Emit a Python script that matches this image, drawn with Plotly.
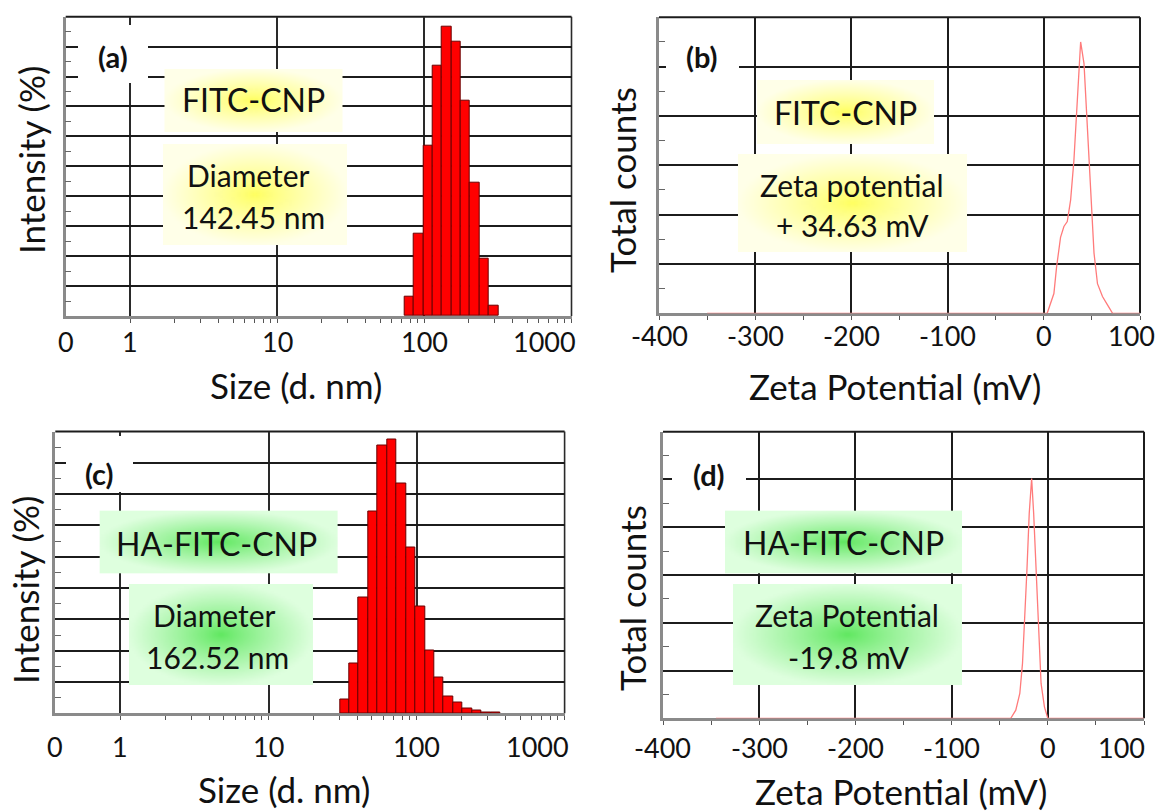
import numpy as np
import plotly.graph_objects as go
import zlib, struct, base64

W, H = 1160, 812

# ---------------- data ----------------
# DLS size classes (nm) and intensity (%)
size_a = [78.82, 91.28, 105.7, 122.4, 141.8, 164.2, 190.1, 220.2, 255.0, 295.3]
intensity_a = [1.3, 5.5, 11.4, 16.7, 19.3, 18.3, 14.4, 8.9, 3.8, 0.7]

size_c = [32.67, 37.84, 43.82, 50.75, 58.77, 68.06, 78.82, 91.28, 105.7,
          122.4, 141.8, 164.2, 190.1, 220.2, 255.0, 295.3, 342.0]
intensity_c = [0.85, 3.2, 7.4, 12.9, 17.1, 17.5, 14.7, 10.6, 6.8,
               4.0, 2.3, 1.1, 0.7, 0.3, 0.2, 0.06, 0.04]

# Zeta potential distributions (mV, total counts)
zeta_b = [-350, 3.5, 10.5, 13.3, 17.4, 20.9, 24.4, 27.9, 31.3, 34.9, 38.3,
          41.8, 45.3, 48.8, 52.2, 55.8, 61.0, 66.2, 71.5, 100]
counts_b = [0, 0, 20000, 47000, 77000, 88000, 93000, 115000, 155000, 213000,
            275000, 253000, 186000, 121000, 61000, 30000, 17000, 8500, 0, 0]

zeta_d = [-345, -38.5, -33.3, -29.1, -26.3, -23.8, -21.7, -19.3, -16.8,
          -14.7, -12.2, -9.8, -7.0, -3.5, 0, 100]
counts_d = [0, 0, 8500, 26000, 57500, 103000, 155000, 214500, 251000,
            214500, 155000, 85500, 36500, 12000, 0, 0]

size_ticks = [1, 10, 100, 1000]
size_ticktext = ["1", "10", "100", "1000"]
size_minor = [2, 3, 4, 5, 6, 7, 8, 9, 20, 30, 40, 50, 60, 70, 80, 90,
              200, 300, 400, 500, 600, 700, 800, 900]
zeta_ticks = [-400, -300, -200, -100, 0, 100]
zeta_ticktext = ["-400", "-300", "-200", "-100", "0", "100"]

FONT = "Lato"
TXT = "#111111"
TICK_FS = 27
TITLE_FS = 35
BOX_FS = 32
LETTER_FS = 29


def px_x(p):
    return p / W


def px_y(p):
    return 1 - p / H


def gradient_uri(center, edge, w=96, h=64):
    yy, xx = np.mgrid[0:h, 0:w]
    dx = ((xx + 0.5) / w - 0.5) / 0.5
    dy = ((yy + 0.5) / h - 0.5) / 0.5
    t = np.clip(np.sqrt(dx ** 2 + dy ** 2), 0, 1) ** 0.85
    c = np.array(center, float)
    e = np.array(edge, float)
    img = (c[None, None, :] * (1 - t[..., None]) + e[None, None, :] * t[..., None]).astype(np.uint8)
    raw = b"".join(b"\x00" + img[r].tobytes() for r in range(h))

    def chunk(tag, data):
        return (struct.pack(">I", len(data)) + tag + data +
                struct.pack(">I", zlib.crc32(tag + data) & 0xffffffff))

    png = (b"\x89PNG\r\n\x1a\n" +
           chunk(b"IHDR", struct.pack(">IIBBBBB", w, h, 8, 2, 0, 0, 0)) +
           chunk(b"IDAT", zlib.compress(raw)) + chunk(b"IEND", b""))
    return "data:image/png;base64," + base64.b64encode(png).decode()


YELLOW = gradient_uri((255, 255, 95), (255, 255, 232))
GREEN = gradient_uri((95, 232, 95), (222, 255, 222))

fig = go.Figure()

# panel pixel frames: x0, x1, y_top, y_bottom
frames = {
    "a": (65.7, 571.5, 16.7, 316.0),
    "b": (659.0, 1140.0, 17.3, 313.3),
    "c": (55.3, 564.6, 431.5, 713.3),
    "d": (663.0, 1144.0, 431.7, 718.3),
}
axis_ids = {"a": ("x", "y"), "b": ("x2", "y2"), "c": ("x3", "y3"), "d": ("x4", "y4")}

# bars
bin_w_a = float(np.log10(size_a[1] / size_a[0]))
fig.add_trace(go.Bar(x=np.log10(size_a), y=intensity_a, width=bin_w_a,
                     marker=dict(color="#ff0000", line=dict(color="#6a0000", width=1)),
                     xaxis="x", yaxis="y"))
bin_w_c = float(np.log10(size_c[1] / size_c[0]))
fig.add_trace(go.Bar(x=np.log10(size_c), y=intensity_c, width=bin_w_c,
                     marker=dict(color="#ff0000", line=dict(color="#6a0000", width=1)),
                     xaxis="x3", yaxis="y3"))
# zeta curves
fig.add_trace(go.Scatter(x=zeta_b, y=counts_b, mode="lines",
                         line=dict(color="#ff7b7b", width=1.3), xaxis="x2", yaxis="y2"))
fig.add_trace(go.Scatter(x=zeta_d, y=counts_d, mode="lines",
                         line=dict(color="#ff7b7b", width=1.3), xaxis="x4", yaxis="y4"))

AXLINE = "#8a8a8a"
GRID = "#1c1c1c"

layout = dict(width=W, height=H, margin=dict(l=0, r=0, t=0, b=0),
              paper_bgcolor="white", plot_bgcolor="white", showlegend=False,
              bargap=0, font=dict(family=FONT, color=TXT), hovermode=False)

shapes = []
images = []
annotations = []

for key, (x0, x1, yt, yb) in frames.items():
    xa, ya = axis_ids[key]
    xname = "xaxis" + xa[1:]
    yname = "yaxis" + ya[1:]
    xdom = [px_x(x0), px_x(x1)]
    ydom = [px_y(yb), px_y(yt)]
    if key in ("a", "c"):
        xax = dict(range=[-0.44, 3.0], tickmode="array",
                   tickvals=list(np.log10(size_ticks)),
                   showgrid=True, gridcolor="#2a2a2a", gridwidth=1.6,
                   minor=dict(tickmode="array", tickvals=list(np.log10(size_minor)),
                              ticks="outside", ticklen=4, tickcolor="#555", tickwidth=1,
                              showgrid=False))
        ymax = 20 if key == "a" else 18
        yax = dict(range=[0, ymax], dtick=2, tick0=0)
        minor_y = 1
        vcol, vw = "#2a2a2a", 1.6
    else:
        xax = dict(range=[-400, 100], tickmode="array", tickvals=zeta_ticks,
                   showgrid=True, gridcolor=GRID, gridwidth=2,
                   minor=dict(dtick=50, tick0=0, ticks="outside", ticklen=4,
                              tickcolor="#555", tickwidth=1, showgrid=False))
        yax = dict(range=[0, 300000], dtick=50000, tick0=0)
        minor_y = 25000
        vcol, vw = GRID, 2
    xax.update(domain=xdom, anchor=ya, showticklabels=False, ticks="outside",
               ticklen=4, tickcolor="#555", showline=True, linecolor=AXLINE,
               linewidth=2.5, zeroline=False, layer="below traces", fixedrange=True)
    yax.update(domain=ydom, anchor=xa, showticklabels=False, ticks="",
               showgrid=True, gridcolor=GRID, gridwidth=2, showline=True,
               linecolor=AXLINE, linewidth=2.5, zeroline=False, layer="below traces",
               fixedrange=True,
               minor=dict(dtick=minor_y, tick0=0, ticks="inside", ticklen=6,
                          tickcolor="#666", tickwidth=1.2, showgrid=False))
    layout[xname] = xax
    layout[yname] = yax
    # top and right frame lines (coincide with last grid lines)
    shapes.append(dict(type="line", xref=xa + " domain", yref=ya + " domain",
                       x0=0, x1=1, y0=1, y1=1, line=dict(color=GRID, width=2), layer="below"))
    shapes.append(dict(type="line", xref=xa + " domain", yref=ya + " domain",
                       x0=1, x1=1, y0=0, y1=1, line=dict(color=vcol, width=vw), layer="below"))

fig.update_layout(**layout)


def box_img(src, x0, x1, y0, y1):
    images.append(dict(source=src, xref="paper", yref="paper", x=px_x(x0), y=px_y(y0),
                       sizex=(x1 - x0) / W, sizey=(y1 - y0) / H, xanchor="left",
                       yanchor="top", sizing="stretch", layer="above"))


def white_box(x0, x1, y0, y1):
    shapes.append(dict(type="rect", xref="paper", yref="paper", x0=px_x(x0), x1=px_x(x1),
                       y0=px_y(y1), y1=px_y(y0), fillcolor="white", line=dict(width=0),
                       layer="above"))


def text(t, x, y, size, bold=False, angle=0):
    annotations.append(dict(text=("<b>%s</b>" % t) if bold else t, xref="paper",
                            yref="paper", x=px_x(x), y=px_y(y), showarrow=False,
                            xanchor="center", yanchor="middle", textangle=angle,
                            font=dict(family=FONT, size=size, color=TXT)))


# panel letters
white_box(78, 148, 25, 83)
text("(a)", 113, 56, LETTER_FS, bold=True)
white_box(666, 739, 25, 82)
text("(b)", 702, 56, LETTER_FS, bold=True)
white_box(66, 133, 436, 492)
text("(c)", 99, 473, LETTER_FS, bold=True)
white_box(672, 746, 440, 505)
text("(d)", 709, 474, LETTER_FS, bold=True)

# labelled gradient boxes
box_img(YELLOW, 164.5, 342.5, 69, 132)
text("FITC-CNP", 253, 100, BOX_FS)
box_img(YELLOW, 163, 347, 144, 245)
text("Diameter", 248, 175, BOX_FS - 2)
text("142.45 nm", 253, 217, BOX_FS - 2)

box_img(YELLOW, 757, 934, 80, 144)
text("FITC-CNP", 845, 113, BOX_FS)
box_img(YELLOW, 738, 967, 154, 252)
text("Zeta potential", 852, 185, BOX_FS - 2)
text("+ 34.63 mV", 852, 225, BOX_FS - 2)

box_img(GREEN, 99.7, 337.6, 510.7, 573.3)
text("HA-FITC-CNP", 216, 543, BOX_FS)
box_img(GREEN, 129, 313, 584, 685)
text("Diameter", 214.5, 615, BOX_FS - 2)
text("162.52 nm", 218, 657, BOX_FS - 2)

box_img(GREEN, 725, 962, 510.7, 573.3)
text("HA-FITC-CNP", 843, 542, BOX_FS)
box_img(GREEN, 733, 962, 584, 685)
text("Zeta Potential", 847, 615, BOX_FS - 2)
text("-19.8 mV", 849, 657, BOX_FS - 2)

# axis titles
text("Size (d. nm)", 296, 385, TITLE_FS)
text("Intensity (%)", 31, 160, TITLE_FS, angle=-90)
text("Zeta Potential (mV)", 895, 386, TITLE_FS)
text("Total counts", 622, 180, TITLE_FS, angle=-90)
text("Size (d. nm)", 284, 789, TITLE_FS)
text("Intensity (%)", 25, 590, TITLE_FS, angle=-90)
text("Zeta Potential (mV)", 901, 791, TITLE_FS)
text("Total counts", 632, 598, TITLE_FS, angle=-90)

# x tick labels
label_y = {"a": 341.7, "b": 335.0, "c": 746.7, "d": 747.5}
for key in ("a", "c"):
    xa = axis_ids[key][0]
    ly = px_y(label_y[key])
    annotations.append(dict(text="0", xref="paper", yref="paper",
                            x=px_x(frames[key][0]), y=ly, showarrow=False,
                            xanchor="center", yanchor="middle",
                            font=dict(family=FONT, size=TICK_FS, color=TXT)))
    for i, (v, t) in enumerate(zip(size_ticks, size_ticktext)):
        last = i == len(size_ticks) - 1
        annotations.append(dict(text=t, xref=xa, yref="paper", x=float(np.log10(v)), y=ly,
                                showarrow=False, xanchor="right" if last else "center",
                                xshift=6 if last else 0, yanchor="middle",
                                font=dict(family=FONT, size=TICK_FS, color=TXT)))
for key in ("b", "d"):
    xa = axis_ids[key][0]
    ly = px_y(label_y[key])
    for i, (v, t) in enumerate(zip(zeta_ticks, zeta_ticktext)):
        last = i == len(zeta_ticks) - 1
        annotations.append(dict(text=t, xref=xa, yref="paper", x=v, y=ly,
                                showarrow=False, xanchor="right" if last else "center",
                                xshift=(17 if key == "b" else 3) if last else 0,
                                yanchor="middle",
                                font=dict(family=FONT, size=TICK_FS, color=TXT)))

fig.update_layout(shapes=shapes, images=images, annotations=annotations)
fig.write_html("out.html", config={"displayModeBar": False},
               post_script="document.body.style.margin='0';document.body.style.padding='0';")
